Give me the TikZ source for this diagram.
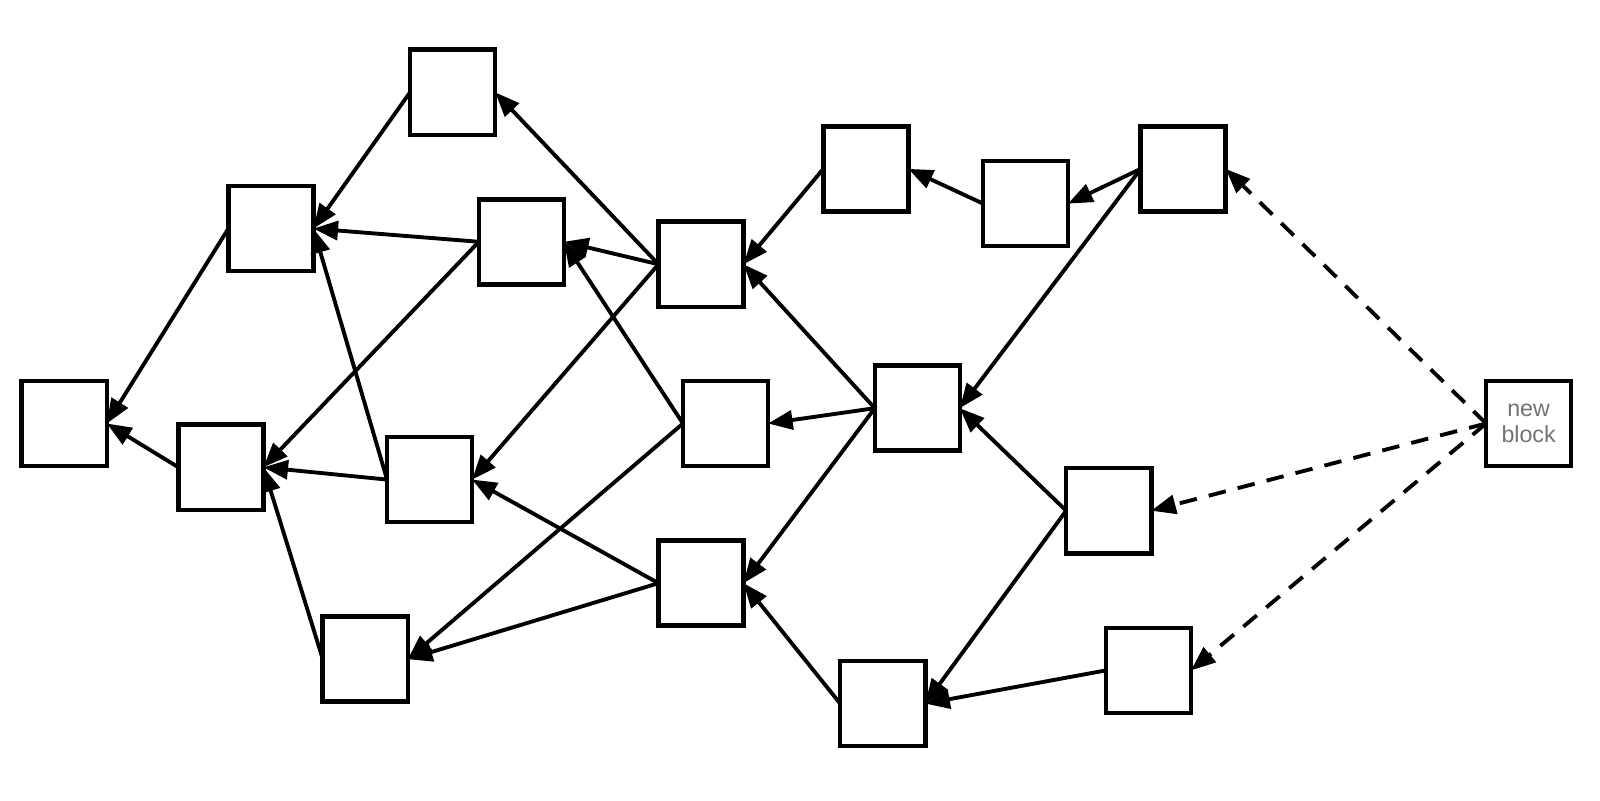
\documentclass[tikz,border=0pt]{standalone}
\usepackage{fontspec}
\setmainfont{Liberation Sans}
\usetikzlibrary{arrows.meta}
\begin{document}
\begin{tikzpicture}[x=0.01cm,y=-0.01cm,
  blk/.style={draw, line width=1.3pt, minimum size=0.85cm, inner sep=0pt, outer sep=0pt, fill=white},
  link/.style={line width=1.1pt, -{Triangle[length=7pt,width=5.4pt]}},
  dlink/.style={link, dash pattern=on 5pt off 3.5pt}]
\useasboundingbox (0,0) rectangle (1600,801);
\node[blk] (A) at (64.3,423.5) {};
\node[blk] (B) at (270.9,228.6) {};
\node[blk] (C) at (452.6,92.3) {};
\node[blk] (D) at (220.9,467.3) {};
\node[blk] (E) at (521.4,241.8) {};
\node[blk] (F) at (429.6,479.6) {};
\node[blk] (G) at (365.3,659.2) {};
\node[blk] (H) at (701,264.3) {};
\node[blk] (I) at (725.5,423.5) {};
\node[blk] (J) at (701,583.2) {};
\node[blk] (K) at (865.8,168.9) {};
\node[blk] (L) at (1025.5,203.6) {};
\node[blk] (M) at (917.3,408.2) {};
\node[blk] (N) at (882.7,703.6) {};
\node[blk] (O) at (1183.2,168.9) {};
\node[blk] (P) at (1108.7,510.7) {};
\node[blk] (Q) at (1148.5,670.4) {};
\node[blk, align=center, text=black!55, font=\fontsize{6.6}{7.4}\selectfont] (R) at (1528.6,423.5) {new\\block};
\draw[link] (B.west) -- (A.east);
\draw[link] (D.west) -- (A.east);
\draw[link] (C.west) -- (B.east);
\draw[link] (E.west) -- (B.east);
\draw[link] (F.west) -- (B.east);
\draw[link] (E.west) -- (D.east);
\draw[link] (F.west) -- (D.east);
\draw[link] (G.west) -- (D.east);
\draw[link] (H.west) -- (C.east);
\draw[link] (H.west) -- (E.east);
\draw[link] (H.west) -- (F.east);
\draw[link] (I.west) -- (E.east);
\draw[link] (I.west) -- (G.east);
\draw[link] (J.west) -- (F.east);
\draw[link] (J.west) -- (G.east);
\draw[link] (K.west) -- (H.east);
\draw[link] (L.west) -- (K.east);
\draw[link] (O.west) -- (L.east);
\draw[link] (O.west) -- (M.east);
\draw[link] (M.west) -- (H.east);
\draw[link] (M.west) -- (I.east);
\draw[link] (M.west) -- (J.east);
\draw[link] (P.west) -- (M.east);
\draw[link] (P.west) -- (N.east);
\draw[link] (N.west) -- (J.east);
\draw[link] (Q.west) -- (N.east);
\draw[dlink] (R.west) -- (O.east);
\draw[dlink] (R.west) -- (P.east);
\draw[dlink] (R.west) -- (Q.east);
\end{tikzpicture}
\end{document}
